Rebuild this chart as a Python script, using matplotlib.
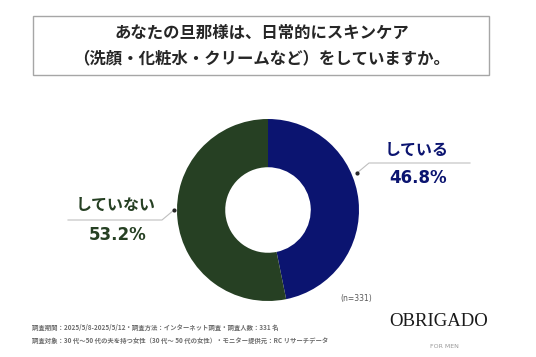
import matplotlib
matplotlib.use("Agg")
import matplotlib.pyplot as plt
from matplotlib.patches import Rectangle

plt.rcParams['font.family'] = ['Noto Sans CJK JP', 'DejaVu Sans']

categories = ["している", "していない"]
values = [46.8, 53.2]
colors = ["#0B1470", "#264023"]
title_lines = ["あなたの旦那様は、日常的にスキンケア", "（洗顔・化粧水・クリームなど）をしていますか。"]
footer_lines = ["調査期間：2025/5/8-2025/5/12・調査方法：インターネット調査・調査人数：331 名",
                "調査対象：30 代〜50 代の夫を持つ女性（30 代〜 50 代の女性）・モニター提供元：RC リサーチデータ"]
n_label = "(n=331)"

W, H = 536, 357
fig = plt.figure(figsize=(W / 100, H / 100), dpi=100)
fig.patch.set_facecolor("white")

def fx(x): return x / W
def fy(y): return 1 - y / H

# Title box
fig.patches.append(Rectangle((fx(33), fy(75)), fx(489) - fx(33), fy(16) - fy(75),
                             transform=fig.transFigure, fill=False, edgecolor="#A6A6A6", lw=1.0))
fig.text(fx(262), fy(33), title_lines[0], ha="center", va="center", fontsize=11.8,
         fontweight="bold", color="#262626")
fig.text(fx(262), fy(58), title_lines[1], ha="center", va="center", fontsize=11.8,
         fontweight="bold", color="#262626")

# Donut
cx, cy, r = 268, 210, 91
ax = fig.add_axes([fx(cx - r), fy(cy + r), 2 * r / W, 2 * r / H])
ax.pie(values, colors=colors, startangle=90, counterclock=False, radius=1.0,
       wedgeprops=dict(width=0.53, edgecolor="none"))
ax.set_xlim(-1, 1)
ax.set_ylim(-1, 1)
ax.set_aspect("auto")
ax.axis("off")

# Labels with leader lines
lc = "#BFBFBF"
num_font = ["DejaVu Sans"]
# している
fig.add_artist(plt.Line2D([fx(357), fx(369), fx(470)], [fy(173), fy(163), fy(163)],
                          transform=fig.transFigure, color=lc, lw=0.8))
fig.add_artist(plt.Line2D([fx(357)], [fy(173)], transform=fig.transFigure, marker="o",
                          markersize=2, color="#262626"))
fig.text(fx(417), fy(150), categories[0], ha="center", va="center", fontsize=11.5,
         fontweight="bold", color=colors[0])
fig.text(fx(418), fy(178), f"{values[0]}%", ha="center", va="center", fontsize=12,
         fontweight="bold", color=colors[0], family=num_font)
# していない
fig.add_artist(plt.Line2D([fx(68), fx(162), fx(174)], [fy(220), fy(220), fy(210)],
                          transform=fig.transFigure, color=lc, lw=0.8))
fig.add_artist(plt.Line2D([fx(174)], [fy(210)], transform=fig.transFigure, marker="o",
                          markersize=2, color="#262626"))
fig.text(fx(116), fy(205), categories[1], ha="center", va="center", fontsize=11.5,
         fontweight="bold", color=colors[1])
fig.text(fx(118), fy(235), f"{values[1]}%", ha="center", va="center", fontsize=12,
         fontweight="bold", color=colors[1], family=num_font)

fig.text(fx(356), fy(299), n_label, ha="center", va="center", fontsize=5.5,
         color="#595959", family=num_font)

# Footer
fig.text(fx(32), fy(327), footer_lines[0], ha="left", va="center", fontsize=4.6,
         fontweight="bold", color="#6E6E6E")
fig.text(fx(32), fy(340), footer_lines[1], ha="left", va="center", fontsize=4.6,
         fontweight="bold", color="#6E6E6E")

fig.text(fx(439), fy(321), "OBRIGADO", ha="center", va="center", fontsize=13.5,
         family="Liberation Serif", color="#1A1A1A")
fig.text(fx(444), fy(347), "FOR MEN", ha="center", va="center", fontsize=4.5,
         family="DejaVu Sans", color="#9A9A9A")

fig.savefig("out.png", dpi=100, facecolor="white")
